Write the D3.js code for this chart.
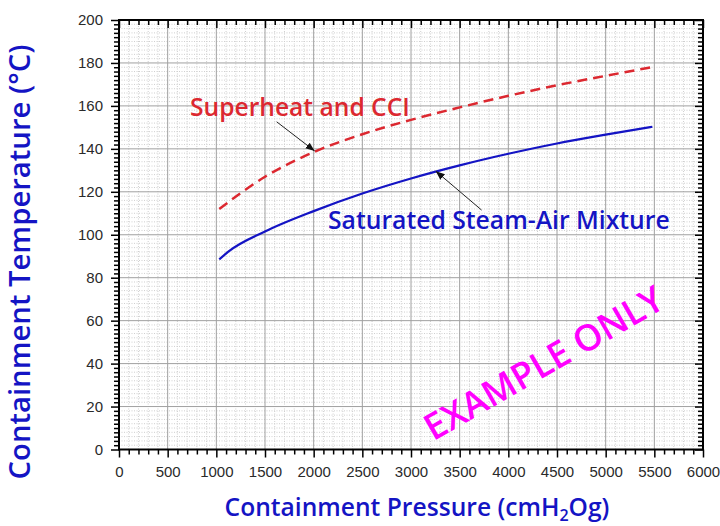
<!DOCTYPE html>
<html>
<head>
<meta charset="utf-8">
<script src="https://cdn.jsdelivr.net/npm/d3@7"></script>
<style>
  body { margin: 0; background: #fff; }
</style>
</head>
<body>
<div id="chart"></div>
<script>
// values
const satPressure = [1030, 1120, 1500, 2000, 2500, 3000, 3500, 4000, 4500, 5000, 5480];
const satTemp = [88.5, 92, 101.5, 111, 119.2, 126.2, 132.3, 137.7, 142.5, 146.6, 150.3];
const shPressure = [1030, 1500, 2000, 2500, 3000, 3500, 4000, 4500, 5000, 5470];
const shTemp = [112, 127, 138.5, 146.8, 153.5, 159.3, 164.7, 169.6, 174, 178];
const xTicks = [0, 500, 1000, 1500, 2000, 2500, 3000, 3500, 4000, 4500, 5000, 5500, 6000];
const yTicks = [0, 20, 40, 60, 80, 100, 120, 140, 160, 180, 200];

const width = 720, height = 526;
const margin = {top: 20, right: 17, bottom: 76.5, left: 119};
const blue = "#1414c4", red = "#dc2830";

const svg = d3.select("#chart").append("svg")
    .attr("width", width)
    .attr("height", height);

const x = d3.scaleLinear().domain([0, 6000]).range([margin.left, width - margin.right]);
const y = d3.scaleLinear().domain([0, 200]).range([height - margin.bottom, margin.top]);

const minorX = d3.range(0, 6001, 100).filter(d => d % 500);
const minorY = d3.range(0, 201, 2).filter(d => d % 20);

// minor grid (dotted)
svg.append("g").selectAll("line")
    .data(minorX)
    .join("line")
    .attr("x1", d => x(d)).attr("x2", d => x(d))
    .attr("y1", y(0)).attr("y2", y(200))
    .attr("stroke", "#cfcfcf").attr("stroke-dasharray", "1,1.5");
svg.append("g").selectAll("line")
    .data(minorY)
    .join("line")
    .attr("y1", d => y(d)).attr("y2", d => y(d))
    .attr("x1", x(0)).attr("x2", x(6000))
    .attr("stroke", "#cfcfcf").attr("stroke-dasharray", "1,1.5");

// major grid
svg.append("g").selectAll("line")
    .data(xTicks.slice(1, -1))
    .join("line")
    .attr("x1", d => x(d)).attr("x2", d => x(d))
    .attr("y1", y(0)).attr("y2", y(200))
    .attr("stroke", "#a0a0a0");
svg.append("g").selectAll("line")
    .data(yTicks.slice(1, -1))
    .join("line")
    .attr("y1", d => y(d)).attr("y2", d => y(d))
    .attr("x1", x(0)).attr("x2", x(6000))
    .attr("stroke", "#a0a0a0");

// axes
function styleAxis(g) {
    g.select(".domain").remove();
    g.selectAll(".tick line").attr("stroke", "#000").attr("stroke-width", 1.5);
    g.selectAll("text").attr("fill", "#2a2a2a")
        .attr("font-family", "Liberation Sans, Arial, sans-serif")
        .attr("font-size", 15);
}

svg.append("g").attr("transform", `translate(0,${y(0)})`)
    .call(d3.axisBottom(x).tickValues(xTicks).tickSize(8).tickPadding(9).tickFormat(d3.format("d")))
    .call(styleAxis);
svg.append("g").attr("transform", `translate(0,${y(0)})`)
    .call(d3.axisBottom(x).tickValues(minorX).tickSize(5).tickFormat(""))
    .call(styleAxis);
svg.append("g").attr("transform", `translate(${x(0)},0)`)
    .call(d3.axisLeft(y).tickValues(yTicks).tickSize(8).tickPadding(8))
    .call(styleAxis);
svg.append("g").attr("transform", `translate(${x(0)},0)`)
    .call(d3.axisLeft(y).tickValues(minorY).tickSize(5).tickFormat(""))
    .call(styleAxis);
// mirrored ticks, pointing inward
svg.append("g").attr("transform", `translate(0,${y(200)})`)
    .call(d3.axisBottom(x).tickValues(xTicks).tickSize(8).tickFormat(""))
    .call(styleAxis);
svg.append("g").attr("transform", `translate(0,${y(200)})`)
    .call(d3.axisBottom(x).tickValues(minorX).tickSize(5).tickFormat(""))
    .call(styleAxis);
svg.append("g").attr("transform", `translate(${x(6000)},0)`)
    .call(d3.axisLeft(y).tickValues(yTicks).tickSize(8).tickFormat(""))
    .call(styleAxis);
svg.append("g").attr("transform", `translate(${x(6000)},0)`)
    .call(d3.axisLeft(y).tickValues(minorY).tickSize(5).tickFormat(""))
    .call(styleAxis);

svg.append("rect")
    .attr("x", x(0)).attr("y", y(200))
    .attr("width", x(6000) - x(0)).attr("height", y(0) - y(200))
    .attr("fill", "none").attr("stroke", "#000").attr("stroke-width", 2);

// curves
const line = d3.line().x(d => x(d[0])).y(d => y(d[1])).curve(d3.curveMonotoneX);

svg.append("path")
    .datum(d3.zip(shPressure, shTemp))
    .attr("d", line)
    .attr("fill", "none").attr("stroke", red)
    .attr("stroke-width", 2.5).attr("stroke-dasharray", "10,6");

svg.append("path")
    .datum(d3.zip(satPressure, satTemp))
    .attr("d", line)
    .attr("fill", "none").attr("stroke", blue)
    .attr("stroke-width", 2.2);

// arrows
svg.append("defs").append("marker")
    .attr("id", "head")
    .attr("viewBox", "0 0 10 10")
    .attr("refX", 10).attr("refY", 5)
    .attr("markerWidth", 9).attr("markerHeight", 9)
    .attr("markerUnits", "userSpaceOnUse")
    .attr("orient", "auto")
    .append("path").attr("d", "M0,1 L10,5 L0,9 Z").attr("fill", "#111");

const arrows = [
    {from: [1620, 152.6], to: [2010, 139]},
    {from: [3725, 111.5], to: [3255, 129.6]}
];
svg.append("g").selectAll("line")
    .data(arrows)
    .join("line")
    .attr("x1", d => x(d.from[0])).attr("y1", d => y(d.from[1]))
    .attr("x2", d => x(d.to[0])).attr("y2", d => y(d.to[1]))
    .attr("stroke", "#222").attr("stroke-width", 1)
    .attr("marker-end", "url(#head)");

// helper: set font size so that a text spans the wanted width
function fitWidth(t, w) {
    t.attr("font-size", 20);
    const len = t.node().getComputedTextLength();
    t.attr("font-size", 20 * w / len);
}

const labelFont = "Open Sans, Noto Sans, sans-serif";
const labelWeight = 600;

const shLabel = svg.append("text")
    .attr("x", 190).attr("y", 116)
    .attr("font-family", labelFont).attr("font-weight", labelWeight)
    .attr("fill", red)
    .text("Superheat and CCI");
fitWidth(shLabel, 220);

const satLabel = svg.append("text")
    .attr("x", 328).attr("y", 229)
    .attr("font-family", labelFont).attr("font-weight", labelWeight)
    .attr("fill", blue)
    .text("Saturated Steam-Air Mixture");
fitWidth(satLabel, 342);

// axis titles
const xTitle = svg.append("text")
    .attr("x", 417).attr("y", 516)
    .attr("text-anchor", "middle")
    .attr("font-family", labelFont).attr("font-weight", labelWeight)
    .attr("fill", blue);
xTitle.append("tspan").text("Containment Pressure (cmH");
xTitle.append("tspan").attr("dy", 5).attr("font-size", "65%").text("2");
xTitle.append("tspan").attr("dy", -5).text("Og)");
fitWidth(xTitle, 385);

const yTitle = svg.append("text")
    .attr("transform", "translate(30,262) rotate(-90)")
    .attr("text-anchor", "middle")
    .attr("font-family", labelFont).attr("font-weight", labelWeight)
    .attr("fill", blue)
    .text("Containment Temperature (\u00B0C)");
fitWidth(yTitle, 435);

// watermark
const mark = svg.append("text")
    .attr("transform", "translate(543,362) rotate(-30)")
    .attr("text-anchor", "middle")
    .attr("dominant-baseline", "central")
    .attr("font-family", labelFont).attr("font-weight", labelWeight)
    .attr("fill", "#ff00ff")
    .text("EXAMPLE ONLY");
fitWidth(mark, 270);
</script>
</body>
</html>
